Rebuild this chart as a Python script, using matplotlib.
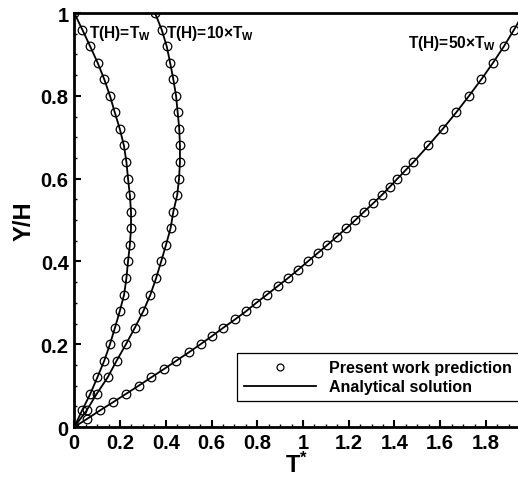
import matplotlib
matplotlib.use("Agg")
import matplotlib.pyplot as plt
from matplotlib.ticker import MultipleLocator, FuncFormatter

plt.rcParams["font.family"] = ["Liberation Sans", "DejaVu Sans"]
plt.rcParams["font.weight"] = "bold"
plt.rcParams["mathtext.fontset"] = "custom"
plt.rcParams["mathtext.rm"] = "Liberation Sans:bold"
plt.rcParams["mathtext.it"] = "Liberation Sans:bold"
plt.rcParams["mathtext.bf"] = "Liberation Sans:bold"

# values
y_coarse = [0.00, 0.04, 0.08, 0.12, 0.16, 0.20, 0.24, 0.28, 0.32, 0.36, 0.40, 0.44, 0.48,
            0.52, 0.56, 0.60, 0.64, 0.68, 0.72, 0.76, 0.80, 0.84, 0.88, 0.92, 0.96, 1.00]
t_wall = [0.000, 0.034, 0.070, 0.101, 0.131, 0.156, 0.178, 0.199, 0.218, 0.228, 0.235, 0.243,
          0.248, 0.248, 0.243, 0.235, 0.228, 0.217, 0.199, 0.177, 0.156, 0.131, 0.102, 0.069,
          0.035, 0.000]
t_10x = [0.000, 0.054, 0.098, 0.146, 0.185, 0.226, 0.265, 0.302, 0.333, 0.358, 0.380, 0.401,
         0.421, 0.433, 0.450, 0.458, 0.462, 0.462, 0.459, 0.452, 0.445, 0.433, 0.419, 0.404,
         0.382, 0.353]

y_fine = [0.00, 0.02, 0.04, 0.06, 0.08, 0.10, 0.12, 0.14, 0.16, 0.18, 0.20, 0.22, 0.24, 0.26,
          0.28, 0.30, 0.32, 0.34, 0.36, 0.38, 0.40, 0.42, 0.44, 0.46, 0.48, 0.50, 0.52, 0.54,
          0.56, 0.58, 0.60, 0.62, 0.64, 0.68, 0.72, 0.76, 0.80, 0.84, 0.88, 0.92, 0.96, 1.00]
t_50x = [0.000, 0.057, 0.112, 0.170, 0.226, 0.282, 0.337, 0.392, 0.446, 0.500, 0.552, 0.603,
         0.652, 0.703, 0.752, 0.796, 0.843, 0.889, 0.935, 0.979, 1.021, 1.064, 1.107, 1.148,
         1.189, 1.229, 1.267, 1.306, 1.344, 1.379, 1.413, 1.448, 1.483, 1.548, 1.611, 1.670,
         1.726, 1.780, 1.831, 1.879, 1.923, 1.965]

curves = [(t_wall, y_coarse), (t_10x, y_coarse), (t_50x, y_fine)]
labels = [("T(H)=T$_{W}$", 0.066, 0.952),
          ("T(H)=10\u00d7T$_{W}$", 0.403, 0.952),
          ("T(H)=50\u00d7T$_{W}$", 1.457, 0.928)]

fig = plt.figure(figsize=(5.18, 4.85), dpi=100)
ax = fig.add_axes([0.1434, 0.1175, 0.8566, 0.8536])

for k, (tx, yy) in enumerate(curves):
    ax.plot(tx, yy, ls="none", marker="o", ms=6.2, mfc="none", mec="black", mew=0.9,
            label="Present work prediction" if k == 0 else None, zorder=2)
    ax.plot(tx, yy, color="black", lw=1.3,
            label="Analytical solution" if k == 0 else None, zorder=3)

for text, tx, ty in labels:
    ax.text(tx, ty, text, fontsize=11.2, fontweight="bold", ha="left", va="center", zorder=4)

ax.set_xlim(0, 1.94)
ax.set_ylim(0, 1)
ax.xaxis.set_major_locator(MultipleLocator(0.2))
ax.xaxis.set_minor_locator(MultipleLocator(0.05))
ax.yaxis.set_major_locator(MultipleLocator(0.2))
ax.yaxis.set_minor_locator(MultipleLocator(0.05))
fmt = FuncFormatter(lambda v, p: f"{v:g}")
ax.xaxis.set_major_formatter(fmt)
ax.yaxis.set_major_formatter(fmt)
ax.tick_params(which="both", direction="in", top=False, right=False)
ax.tick_params(which="major", length=5, width=1.5, labelsize=14.5, pad=4)
ax.tick_params(which="minor", length=2.5, width=1.0)
for lab in ax.get_xticklabels() + ax.get_yticklabels():
    lab.set_fontweight("bold")

for side in ("left", "bottom", "top"):
    ax.spines[side].set_linewidth(2.0)
ax.spines["right"].set_visible(False)

ax.set_xlabel("T$^{*}$", fontsize=17, fontweight="bold", labelpad=0)
ax.set_ylabel("Y/H", fontsize=17, fontweight="bold", labelpad=4)

leg = ax.legend(loc="upper left", bbox_to_anchor=(236.5 / 518, 1 - 354 / 485),
                bbox_transform=fig.transFigure, prop={"weight": "bold", "size": 11.5},
                handlelength=4.5, handletextpad=0.85, labelspacing=0.25, borderpad=0.45,
                borderaxespad=0, fancybox=False, framealpha=1, edgecolor="black",
                markerscale=0.8)
leg.get_frame().set_linewidth(0.9)

fig.savefig("out.png", dpi=100)
